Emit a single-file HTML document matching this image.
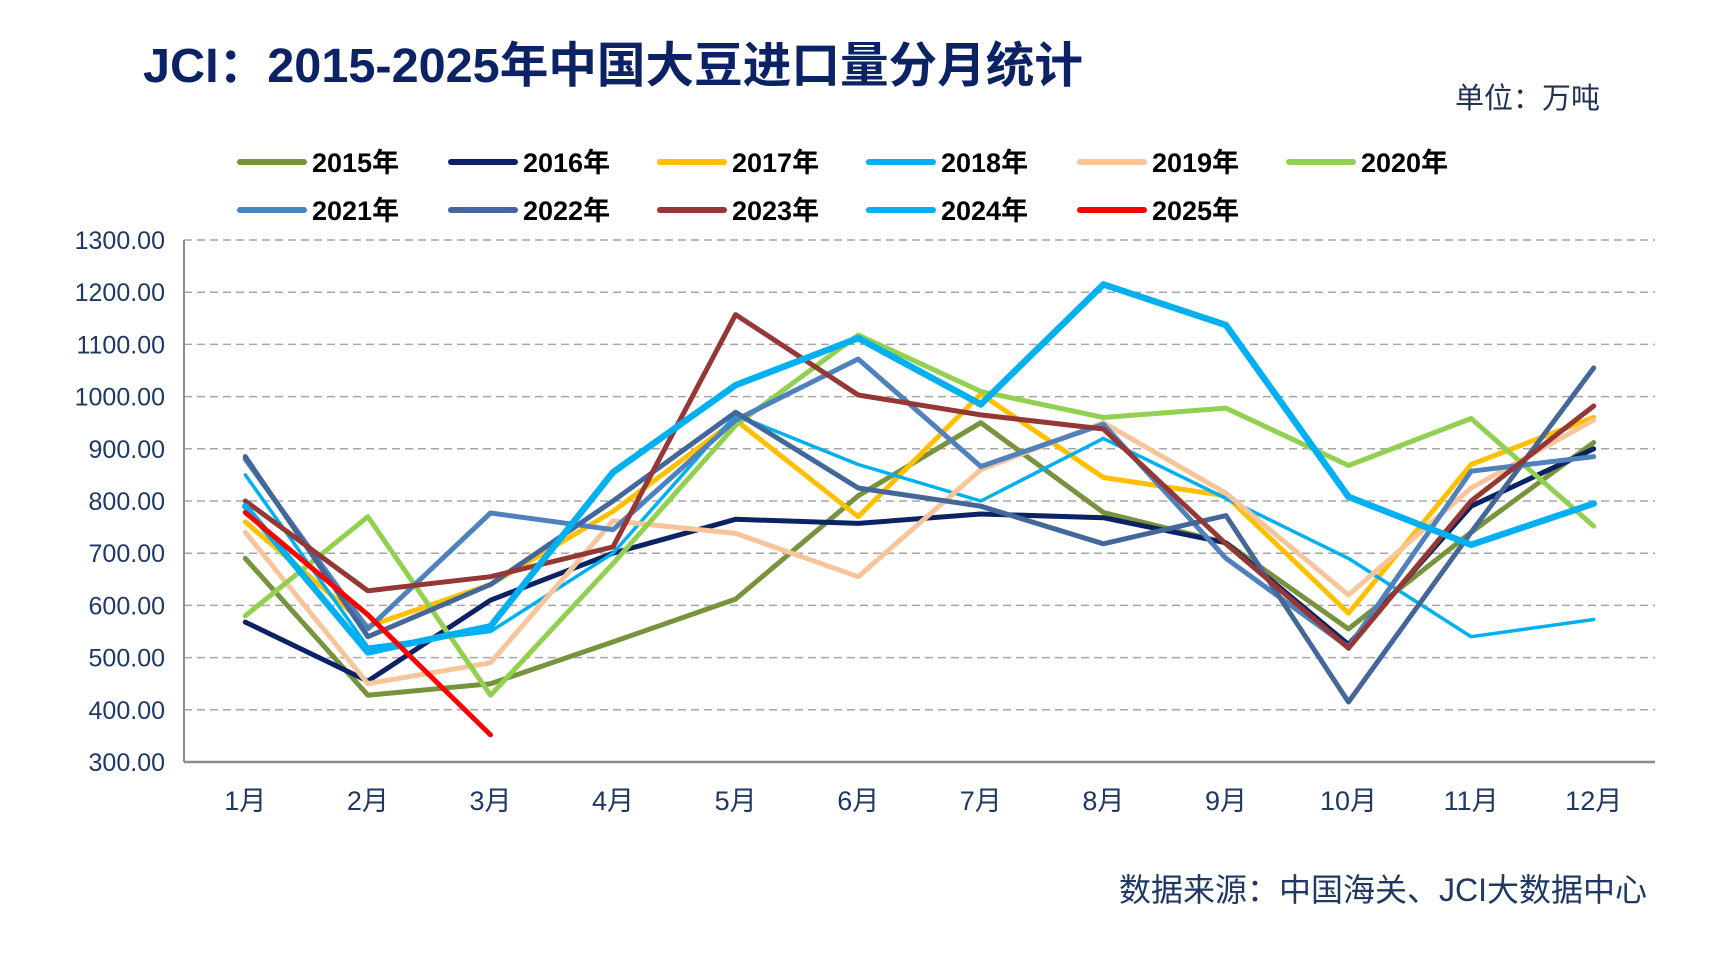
<!DOCTYPE html>
<html><head><meta charset="utf-8"><style>
body{margin:0;background:#fff;}
svg{display:block;}
text{font-family:"Liberation Sans","Noto Sans CJK SC",sans-serif;}
</style></head><body>
<svg id="s" width="1720" height="955" xmlns="http://www.w3.org/2000/svg">
<text x="143" y="82" font-size="48.5" font-weight="bold" fill="#0b2265" textLength="940" lengthAdjust="spacingAndGlyphs">JCI：2015-2025年中国大豆进口量分月统计</text>
<text x="1600" y="108" font-size="29" fill="#1f3050" text-anchor="end">单位：万吨</text>
<text x="1647" y="901" font-size="32" fill="#1f3864" text-anchor="end">数据来源：中国海关、JCI大数据中心</text>
<g id="g"></g>
</svg>
<script>
var g=document.getElementById('g'),h='';
var X0=184,X1=1655,step=(X1-X0)/12;
function Y(v){return 240+(1300-v)*0.522;}
for(var v=300;v<=1300;v+=100){
 var y=Y(v);
 if(v>300)h+='<line x1="'+X0+'" x2="'+X1+'" y1="'+y+'" y2="'+y+'" stroke="#a6a6a6" stroke-width="1.5" stroke-dasharray="8,5"/>';
 h+='<text x="165" y="'+(y+9)+'" font-size="25" fill="#1f3864" text-anchor="end">'+v+'.00</text>';
}
h+='<line x1="'+X0+'" x2="'+X0+'" y1="240" y2="'+Y(300)+'" stroke="#8c8c8c" stroke-width="2"/>';
h+='<line x1="'+X0+'" x2="'+X1+'" y1="'+Y(300)+'" y2="'+Y(300)+'" stroke="#8c8c8c" stroke-width="2.5"/>';
for(var i=0;i<12;i++){h+='<text x="'+(X0+step*(i+0.5))+'" y="810" font-size="27" fill="#1f3864" text-anchor="middle">'+(i+1)+'月</text>';}
var S=[
['2015年','#77933c',5,[690,428,450,530,612,810,950,778,720,555,740,912]],
['2016年','#0b2265',5,[568,455,610,700,765,757,775,768,720,525,790,900]],
['2017年','#ffc000',5,[760,560,640,780,955,770,1005,845,810,585,870,960]],
['2018年','#00b0f0',3.5,[850,520,550,700,965,870,800,920,805,690,540,573]],
['2019年','#f8c49a',5,[740,450,490,762,738,655,860,950,815,620,825,955]],
['2020年','#92d050',5,[580,770,428,680,945,1118,1010,960,978,868,958,752]],
['2021年','#4f81bd',5,[880,555,777,745,955,1072,866,947,690,520,857,885]],
['2022年','#44679a',5,[885,540,640,800,970,825,790,718,772,415,740,1055]],
['2023年','#953735',5,[800,628,655,712,1157,1003,965,938,718,518,800,982]],
['2024年','#00b0f0',6.5,[790,510,560,855,1022,1112,985,1215,1137,808,716,795]],
['2025年','#ff0000',5,[778,582,352]]
];
var lx=[240,451,660,869,1080,1289];
S.forEach(function(s,k){
 var p=s[3].map(function(v,i){return (X0+step*(i+0.5)).toFixed(1)+','+Y(v).toFixed(1);}).join(' ');
 h+='<polyline points="'+p+'" fill="none" stroke="'+s[1]+'" stroke-width="'+s[2]+'" stroke-linejoin="round" stroke-linecap="round"/>';
 var r=k<6?0:1,c=k%6,ly=r?210:162,x=lx[c];
 h+='<line x1="'+x+'" x2="'+(x+64)+'" y1="'+ly+'" y2="'+ly+'" stroke="'+s[1]+'" stroke-width="6" stroke-linecap="round"/>';
 h+='<text x="'+(x+72)+'" y="'+(ly+10)+'" font-size="27" font-weight="bold" fill="#000">'+s[0]+'</text>';
});
g.innerHTML=h;
</script>
</body></html>
